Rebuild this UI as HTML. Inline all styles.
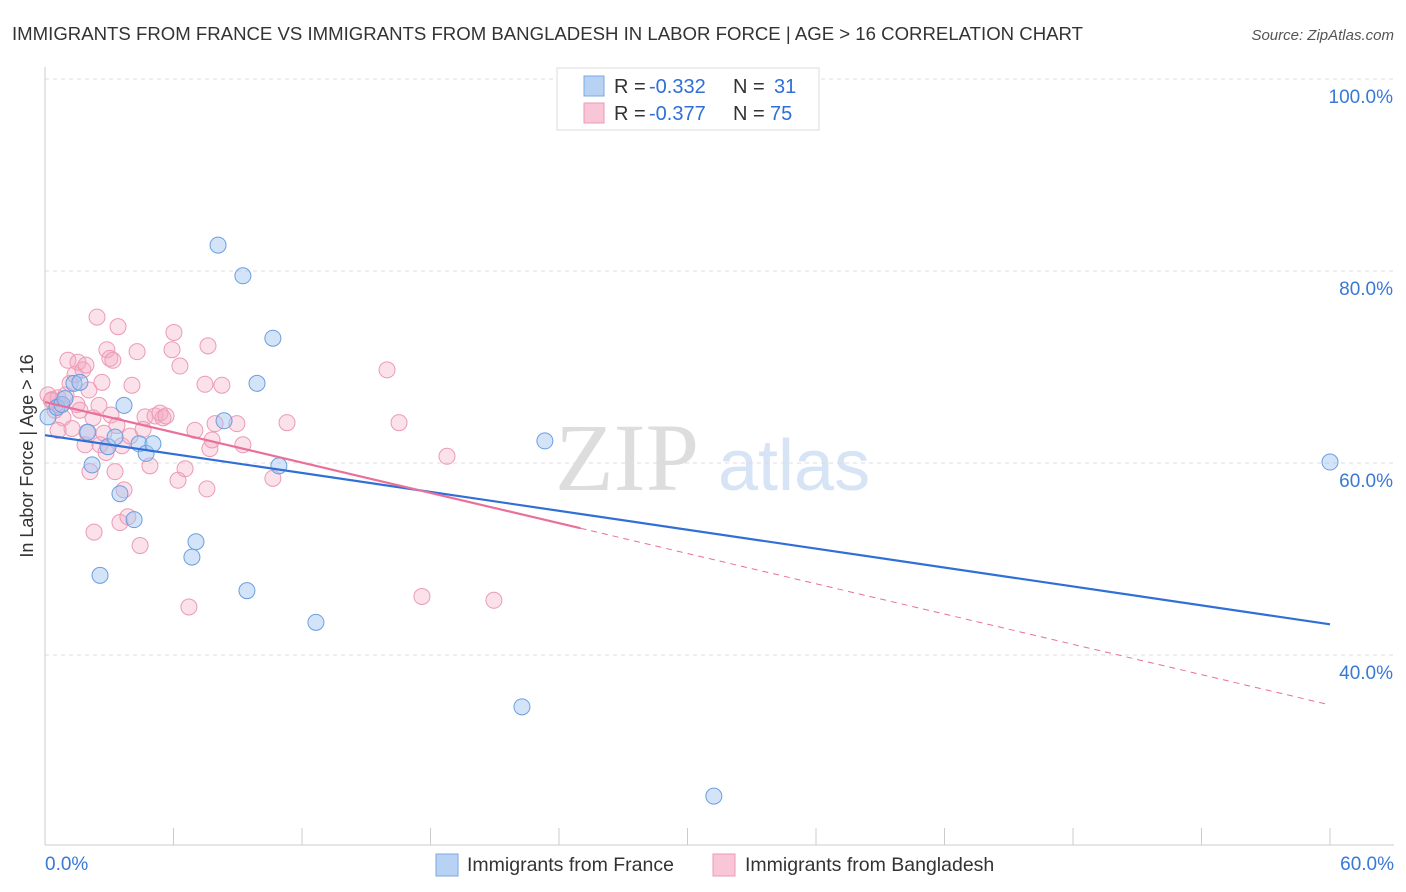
<!DOCTYPE html>
<html><head><meta charset="utf-8"><style>
body{margin:0;background:#fff;font-family:"Liberation Sans",sans-serif;}
#wrap{position:relative;width:1406px;height:892px;overflow:hidden;}
</style></head><body>
<div id="wrap">
<svg id="svg" width="1406" height="892" xmlns="http://www.w3.org/2000/svg">
<text x="12" y="40" font-size="18" fill="#333" textLength="1071" lengthAdjust="spacingAndGlyphs">IMMIGRANTS FROM FRANCE VS IMMIGRANTS FROM BANGLADESH IN LABOR FORCE | AGE &gt; 16 CORRELATION CHART</text>
<text x="1394" y="40" font-size="15" fill="#555" text-anchor="end" font-style="italic">Source: ZipAtlas.com</text>
<text x="33" y="456" font-size="18" fill="#333" text-anchor="middle" transform="rotate(-90 33 456)">In Labor Force | Age &gt; 16</text>
<text x="555" y="490" font-size="96" fill="#ddd" font-family="Liberation Serif,serif">ZIP</text>
<text x="718" y="490" font-size="72" fill="#d6e4f5">atlas</text>
<g id="grid"></g><g id="axes"></g><g id="pts"></g><g id="lines"></g>
<g>
<rect x="557" y="68" width="262" height="62" fill="#fff" stroke="#ddd"/>
<rect x="584" y="76" width="20" height="20" fill="#b8d2f4" stroke="#7aa8e4"/>
<text x="614" y="93" font-size="20" fill="#333">R = <tspan fill="#2f6fd6" x="649">-0.332</tspan><tspan x="733">N =</tspan><tspan fill="#2f6fd6" x="774">31</tspan></text>
<rect x="584" y="103" width="20" height="20" fill="#f8c6d6" stroke="#ec9ab6"/>
<text x="614" y="120" font-size="20" fill="#333">R = <tspan fill="#2f6fd6" x="649">-0.377</tspan><tspan x="733">N =</tspan><tspan fill="#2f6fd6" x="770">75</tspan></text>
</g>
<g>
<rect x="436" y="854" width="22" height="22" fill="#b8d2f4" stroke="#7aa8e4"/>
<text x="467" y="871" font-size="19.5" fill="#333">Immigrants from France</text>
<rect x="713" y="854" width="22" height="22" fill="#f8c6d6" stroke="#ec9ab6"/>
<text x="745" y="871" font-size="19.5" fill="#333">Immigrants from Bangladesh</text>
</g>
</svg>
</div>
<script>
const blueX=[0.14,0.56,0.79,0.93,1.35,1.63,2.0,2.2,2.57,2.94,3.27,3.5,3.69,4.16,4.39,4.72,5.04,6.86,7.05,8.08,8.36,9.24,9.43,9.9,10.64,10.92,12.65,22.27,23.34,31.23,60.0];
const blueY=[64.8,65.8,66.1,66.7,68.3,68.4,63.2,59.8,48.3,61.7,62.7,56.8,66.0,54.1,62.0,61.0,62.0,50.2,51.8,82.7,64.4,79.5,46.7,68.3,73.0,59.7,43.4,34.6,62.3,25.3,60.1];
const pinkX=[0.14,0.33,0.47,0.61,0.7,0.84,0.98,1.07,1.17,1.26,1.4,1.49,1.54,1.63,1.77,1.87,1.96,2.05,2.1,2.24,2.29,2.43,2.52,2.57,2.66,2.75,2.85,2.89,3.03,3.08,3.17,3.27,3.36,3.41,3.5,3.59,3.69,3.87,3.97,4.06,4.3,4.44,4.58,4.67,4.9,5.14,5.37,5.51,5.65,5.93,6.02,6.21,6.3,6.54,6.72,7.0,7.47,7.56,7.61,7.7,7.8,7.94,8.26,8.96,9.24,10.64,11.3,15.97,16.53,17.6,18.77,20.96,1.91,0.61,0.3];
const pinkY=[67.1,66.6,65.5,66.8,66.0,64.7,67.1,70.7,68.3,63.6,69.2,66.1,70.5,65.5,69.7,61.9,63.2,67.6,59.1,64.7,52.8,75.2,66.0,61.9,68.4,63.1,61.1,71.8,70.9,65.0,70.7,59.1,63.9,74.2,53.8,61.8,57.2,54.4,62.8,68.1,71.6,51.4,63.5,64.8,59.7,64.9,65.2,64.7,64.9,71.8,73.6,58.2,70.1,59.4,45.0,63.4,68.2,57.3,72.2,61.5,62.4,64.1,68.1,64.1,61.9,58.4,64.2,69.7,64.2,46.1,60.7,45.7,70.2,63.4,66.5];
const blueTrend=[62.9,43.2];
const pinkTrend=[66.35,34.8];
const pinkSolidEnd=25;
const yTicks=[100,80,60,40];
const xTickLabels=["0.0%","60.0%"];
const NS="http://www.w3.org/2000/svg";
const X=v=>45+v*(1285/60), Y=v=>79+(100-v)*9.6;
function mk(t,a,p){const e=document.createElementNS(NS,t);for(const k in a)e.setAttribute(k,a[k]);document.getElementById(p).appendChild(e);return e;}
yTicks.forEach(t=>{
 const l=mk('line',{x1:45,x2:1394,y1:Y(t),y2:Y(t),stroke:'#ddd','stroke-dasharray':'4,4'},'grid');
 
 
 const tx=mk('text',{x:1393,y:Y(t)+24,'font-size':19,fill:'#3a78d6','text-anchor':'end'},'grid');
 tx.textContent=t.toFixed(1)+'%';
 
 
});
let ax=mk('line',{x1:45,x2:45,y1:67,y2:845,stroke:'#ccc'},'axes');


ax=mk('line',{x1:45,x2:1394,y1:845,y2:845,stroke:'#ccc'},'axes');


for(let i=0;i<=10;i++){const t=mk('line',{x1:X(i*6),x2:X(i*6),y1:828,y2:845,stroke:'#ccc'},'axes');
 
 }
[[0,'start',45],[60,'end',1394]].forEach((d,i)=>{const t=mk('text',{x:d[2],y:870,'font-size':19,fill:'#3a78d6','text-anchor':d[1]},'axes');t.textContent=xTickLabels[i];
 
 });
pinkX.forEach((v,i)=>{const c=mk('circle',{cx:X(v),cy:Y(pinkY[i]),r:8,fill:'rgba(244,170,196,0.35)',stroke:'#ec9ab6','stroke-width':1},'pts');
 
 });
blueX.forEach((v,i)=>{const c=mk('circle',{cx:X(v),cy:Y(blueY[i]),r:8,fill:'rgba(160,196,240,0.45)',stroke:'#6a9ee0','stroke-width':1},'pts');
 
 });
const py=x=>pinkTrend[0]+(pinkTrend[1]-pinkTrend[0])*x/60;
let l=mk('line',{x1:X(0),y1:Y(blueTrend[0]),x2:X(60),y2:Y(blueTrend[1]),stroke:'#2f6fd6','stroke-width':2.2},'lines');


l=mk('line',{x1:X(0),y1:Y(py(0)),x2:X(pinkSolidEnd),y2:Y(py(pinkSolidEnd)),stroke:'#e8709a','stroke-width':2.2},'lines');


l=mk('line',{x1:X(pinkSolidEnd),y1:Y(py(pinkSolidEnd)),x2:X(60),y2:Y(py(60)),stroke:'#e8709a','stroke-width':1,'stroke-dasharray':'6,5'},'lines');


</script>
</body></html>
